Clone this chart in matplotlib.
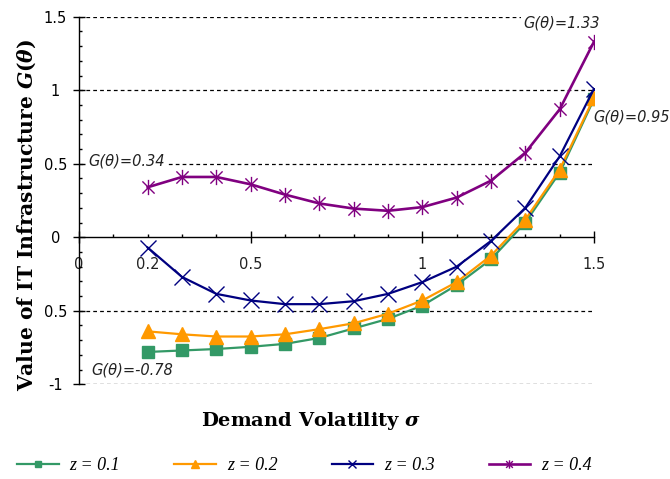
import matplotlib
matplotlib.use("Agg")
import matplotlib.pyplot as plt
from matplotlib.path import Path
from matplotlib.ticker import MultipleLocator, FixedLocator, FuncFormatter

# ---- data ----
sigma = [0.2, 0.3, 0.4, 0.5, 0.6, 0.7, 0.8, 0.9, 1.0, 1.1, 1.2, 1.3, 1.4, 1.5]
z01 = [-0.78, -0.77, -0.76, -0.745, -0.725, -0.685, -0.62, -0.555, -0.465, -0.325, -0.15, 0.10, 0.44, 0.94]
z02 = [-0.64, -0.66, -0.675, -0.675, -0.66, -0.625, -0.585, -0.52, -0.43, -0.305, -0.125, 0.12, 0.46, 0.95]
z03 = [-0.07, -0.27, -0.385, -0.43, -0.455, -0.455, -0.435, -0.385, -0.305, -0.20, -0.025, 0.20, 0.55, 1.01]
z04 = [0.34, 0.41, 0.41, 0.36, 0.29, 0.23, 0.195, 0.18, 0.205, 0.27, 0.385, 0.575, 0.87, 1.33]
labels = ["z = 0.1", "z = 0.2", "z = 0.3", "z = 0.4"]
x_major = [0, 0.5, 1.0, 1.5]
x_major_labels = ["0", "0.5", "1", "1.5"]
x_extra_label = {0.2: "0.2"}
y_ticks = [-1, -0.5, 0, 0.5, 1, 1.5]
y_tick_labels = ["-1", "0.5", "0", "0.5", "1", "1.5"]
annotations = [
    ("G(θ)=0.34", 0.026, 0.52, True),
    ("G(θ)=1.33", 1.293, 1.457, True),
    ("G(θ)=0.95", 1.497, 0.818, False),
    ("G(θ)=-0.78", 0.037, -0.905, False),
]

plt.rcParams['mathtext.fontset'] = 'custom'
plt.rcParams['mathtext.it'] = 'DejaVu Serif:italic:bold'
plt.rcParams['mathtext.rm'] = 'DejaVu Serif:bold'

fig = plt.figure(figsize=(6.7, 4.79), dpi=100)
ax = fig.add_axes([79/670, 1-384.3/479, (594-79)/670, (384.3-16.7)/479])

ast = Path([(-1, -1), (1, 1), (-1, 1), (1, -1), (0, -1.25), (0, 1.25)],
           [Path.MOVETO, Path.LINETO, Path.MOVETO, Path.LINETO, Path.MOVETO, Path.LINETO])

ax.plot(sigma, z01, color='#339966', lw=1.6, marker='s', ms=9, label=labels[0], zorder=3)
ax.plot(sigma, z02, color='#FF9900', lw=1.6, marker='^', ms=10, label=labels[1], zorder=4)
ax.plot(sigma, z03, color='#000080', lw=1.6, marker='x', ms=11, mew=1.0, label=labels[2], zorder=5)
ax.plot(sigma, z04, color='#800080', lw=1.9, marker=ast, ms=11, mew=1.0, label=labels[3], zorder=6)

ax.set_xlim(0, 1.5)
ax.set_ylim(-1, 1.5)

for y in [-1, -0.5, 0.5, 1, 1.5]:
    ax.axhline(y, color='black', lw=0.9, ls=(0, (3.0, 2.5)), zorder=1)

ax.spines['top'].set_visible(False)
ax.spines['right'].set_visible(False)
ax.spines['bottom'].set_position(('data', 0))
ax.spines['left'].set_linewidth(1.0)
ax.spines['bottom'].set_linewidth(1.0)

ax.xaxis.set_major_locator(FixedLocator(x_major))
ax.set_xticklabels(x_major_labels)
ax.xaxis.set_minor_locator(MultipleLocator(0.1))
ax.xaxis.set_minor_formatter(FuncFormatter(
    lambda v, p: next((t for k, t in x_extra_label.items() if abs(v - k) < 1e-6), "")))
ax.set_yticks(y_ticks)
ax.set_yticklabels(y_tick_labels)
ax.yaxis.set_minor_locator(MultipleLocator(0.1))

ax.tick_params(axis='both', which='major', direction='inout', length=8, width=1.0,
               labelsize=10.5)
ax.tick_params(axis='both', which='minor', direction='in', length=2.5, width=1.0,
               labelsize=10.5)
ax.tick_params(axis='x', which='major', pad=10.5)
ax.tick_params(axis='x', which='minor', pad=14.5)
ax.tick_params(axis='y', which='major', pad=13)
for t in ax.get_yticklabels():
    t.set_ha('center')
for t in ax.get_xticklabels(which='both'):
    t.set_color('#222222')

for txt, x, y, box in annotations:
    kw = dict(fontsize=10.5, style='italic', family='DejaVu Sans', va='center', ha='left',
              color='#222222', zorder=7, clip_on=False)
    if box:
        kw['bbox'] = dict(facecolor='white', edgecolor='none', pad=1.5)
    ax.text(x, y, txt, **kw)

fig.text(311/670, 1-421/479, r"Demand Volatility $\sigma$", family='DejaVu Serif',
         weight='bold', fontsize=14, ha='center', va='center')
fig.text(27/670, 1-215/479, r"Value of IT Infrastructure $G(\theta)$", family='DejaVu Serif',
         weight='bold', fontsize=14.6, ha='center', va='center', rotation=90)

leg = fig.legend(loc='center left', bbox_to_anchor=(10/670, 1-466/479), ncol=4, frameon=False,
                 prop=dict(family='Liberation Serif', style='italic', size=13),
                 handlelength=2.3, handletextpad=0.6, columnspacing=3.0, markerscale=0.55,
                 borderaxespad=0)

fig.savefig("out.png", dpi=100)
